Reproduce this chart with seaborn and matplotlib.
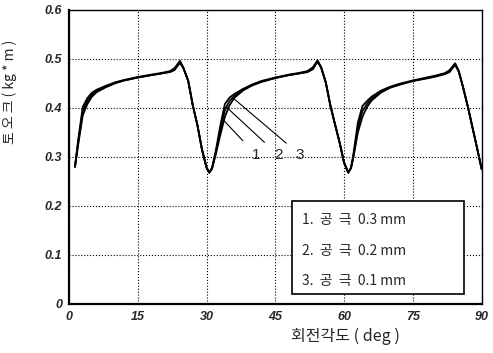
import pandas as pd
import matplotlib.pyplot as plt
import seaborn as sns
from matplotlib.patches import Rectangle

# rotation angle (deg) and torque (kg*m)
angle = [1.3, 2, 3, 4, 5, 6, 8, 10, 12, 15, 18, 20, 22, 23, 24.2, 25, 26, 27, 28, 29,
         30, 30.6, 31.2, 32, 33, 34, 35, 36, 38, 40, 42, 45, 48, 50, 52, 53.2, 54.2, 55,
         56, 57, 58, 59, 60, 60.9, 61.5, 62, 63, 64, 65, 66, 68, 70, 72, 75, 78, 80, 82,
         83, 84.2, 85, 86, 87, 88, 89, 90]

gap_03 = [0.280, 0.325, 0.385, 0.408, 0.423, 0.432, 0.442, 0.450, 0.456, 0.462, 0.467, 0.470,
          0.473, 0.477, 0.492, 0.480, 0.455, 0.405, 0.365, 0.315,
          0.278, 0.268, 0.276, 0.305, 0.345, 0.382, 0.405, 0.420, 0.436, 0.446, 0.453, 0.461,
          0.467, 0.470, 0.473, 0.479, 0.494, 0.482,
          0.452, 0.405, 0.367, 0.330, 0.288, 0.268, 0.277, 0.298, 0.350, 0.382, 0.402, 0.415,
          0.431, 0.441, 0.447, 0.455, 0.460, 0.464, 0.469,
          0.473, 0.488, 0.474, 0.440, 0.402, 0.360, 0.318, 0.275]

gap_02 = [0.280, 0.330, 0.394, 0.414, 0.427, 0.434, 0.443, 0.451, 0.456, 0.462, 0.467, 0.470,
          0.474, 0.479, 0.494, 0.480, 0.455, 0.405, 0.365, 0.315,
          0.278, 0.268, 0.277, 0.308, 0.355, 0.396, 0.414, 0.424, 0.437, 0.447, 0.454, 0.461,
          0.467, 0.470, 0.474, 0.481, 0.496, 0.482,
          0.452, 0.405, 0.367, 0.330, 0.288, 0.268, 0.277, 0.300, 0.360, 0.394, 0.408, 0.419,
          0.433, 0.442, 0.448, 0.455, 0.461, 0.465, 0.470,
          0.475, 0.490, 0.475, 0.440, 0.402, 0.360, 0.318, 0.275]

gap_01 = [0.280, 0.335, 0.402, 0.420, 0.431, 0.437, 0.445, 0.452, 0.457, 0.463, 0.468, 0.471,
          0.475, 0.481, 0.496, 0.481, 0.455, 0.405, 0.365, 0.315,
          0.278, 0.268, 0.278, 0.312, 0.364, 0.408, 0.421, 0.428, 0.439, 0.448, 0.455, 0.462,
          0.468, 0.471, 0.475, 0.483, 0.497, 0.483,
          0.452, 0.405, 0.367, 0.330, 0.288, 0.268, 0.278, 0.304, 0.370, 0.404, 0.414, 0.423,
          0.435, 0.443, 0.449, 0.456, 0.462, 0.466, 0.471,
          0.477, 0.491, 0.476, 0.440, 0.402, 0.360, 0.318, 0.275]

legend_lines = ['1.  공  극  0.3 mm', '2.  공  극  0.2 mm', '3.  공  극  0.1 mm']

df = pd.concat([
    pd.DataFrame({'angle': angle, 'torque': gap_03, 'gap': '0.3'}),
    pd.DataFrame({'angle': angle, 'torque': gap_02, 'gap': '0.2'}),
    pd.DataFrame({'angle': angle, 'torque': gap_01, 'gap': '0.1'}),
])

sns.set_style("white")
plt.rcParams['font.family'] = ['Liberation Sans', 'Noto Sans CJK KR', 'DejaVu Sans']

fig = plt.figure(figsize=(4.93, 3.53), dpi=100)
ax = fig.add_axes([0.14, 0.139, 0.837, 0.833])

sns.lineplot(data=df, x='angle', y='torque', hue='gap', palette=['black'] * 3,
             linewidth=1.3, legend=False, ax=ax)

ax.set_xlim(0, 90)
ax.set_ylim(0, 0.6)
ax.set_xticks([0, 15, 30, 45, 60, 75, 90])
ax.set_yticks([0, 0.1, 0.2, 0.3, 0.4, 0.5, 0.6])
ax.set_yticklabels(['0', '0.1', '0.2', '0.3', '0.4', '0.5', '0.6'])
for lab in ax.get_xticklabels() + ax.get_yticklabels():
    lab.set_fontweight('bold')
    lab.set_fontstyle('italic')
    lab.set_fontsize(9)
ax.tick_params(direction='inout', length=6, width=1, color='black', pad=2)
ax.grid(True, color='black', linestyle=':', linewidth=0.8)

for side in ['left', 'bottom']:
    ax.spines[side].set_linewidth(1.6)
for side in ['top', 'right']:
    ax.spines[side].set_linewidth(1.0)
for side in ax.spines:
    ax.spines[side].set_color('black')

ax.set_xlabel('회전각도 ( deg )', fontsize=11.5, family=['Noto Sans CJK KR'])
ax.xaxis.set_label_coords(0.67, -0.082)
ax.set_ylabel('토 오 크 ( kg * m )', fontsize=10, family=['Noto Sans CJK KR'])
ax.yaxis.set_label_coords(-0.125, 0.72)

# leader lines to the three curves
ax.annotate('1', xy=(33.7, 0.375), xytext=(40.8, 0.304), fontsize=11, ha='center', va='center',
            arrowprops=dict(arrowstyle='-', color='black', lw=0.8, shrinkB=0, shrinkA=6))
ax.annotate('2', xy=(34.4, 0.401), xytext=(45.6, 0.304), fontsize=11, ha='center', va='center',
            arrowprops=dict(arrowstyle='-', color='black', lw=0.8, shrinkB=0, shrinkA=6))
ax.annotate('3', xy=(35.8, 0.420), xytext=(50.4, 0.304), fontsize=11, ha='center', va='center',
            arrowprops=dict(arrowstyle='-', color='black', lw=0.8, shrinkB=0, shrinkA=6))

# legend box
ax.add_patch(Rectangle((48.7, 0.02), 37.5, 0.19, facecolor='white', edgecolor='black',
                       linewidth=1.2, zorder=5))
for i, line in enumerate(legend_lines):
    ax.text(50.8, 0.172 - i * 0.063, line, fontsize=10, ha='left', va='center',
            family=['Noto Sans CJK KR'], zorder=6)

plt.savefig('out.png', dpi=100)
